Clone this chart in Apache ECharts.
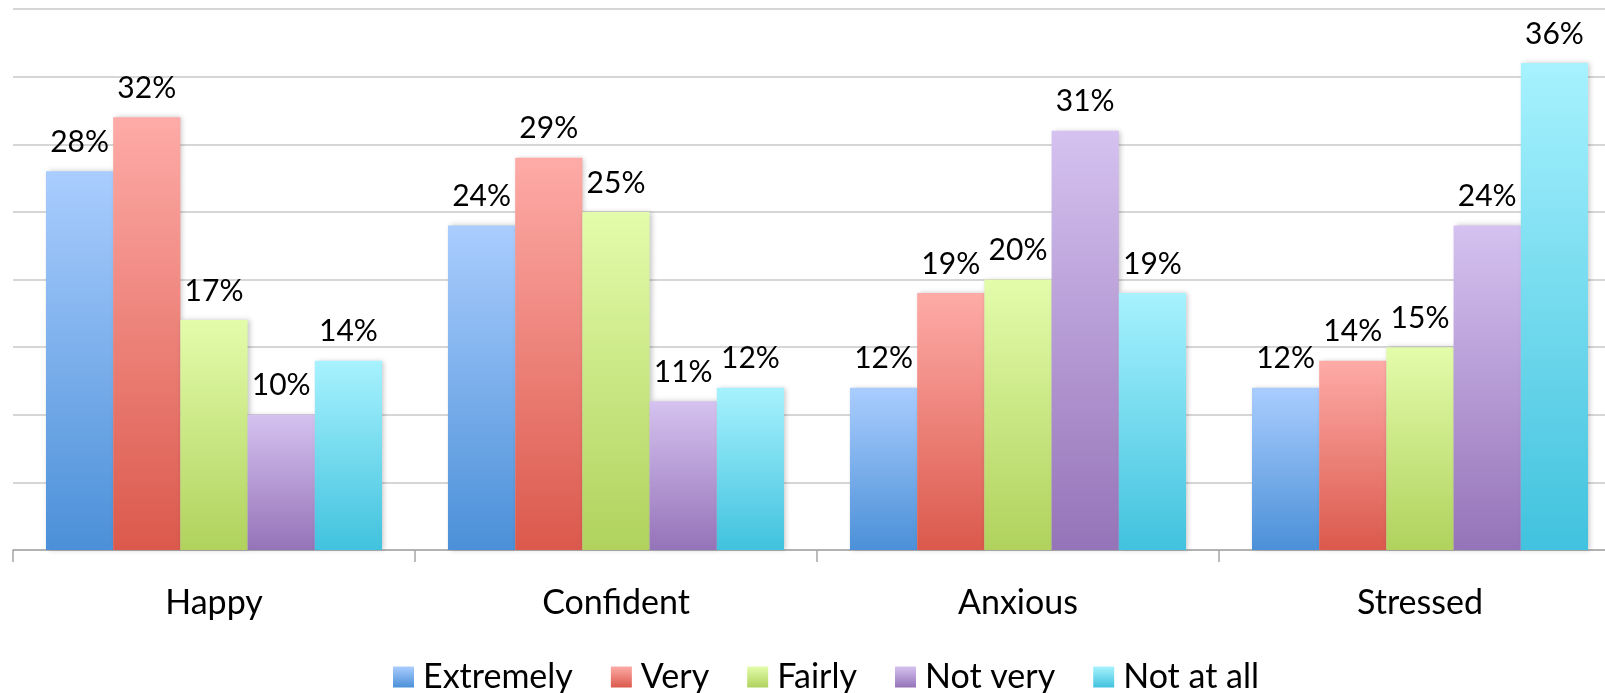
<!DOCTYPE html>
<html>
<head>
<meta charset="utf-8">
<script src="https://cdn.jsdelivr.net/npm/echarts@6/dist/echarts.min.js"></script>
<style>
html,body{margin:0;padding:0;background:#fff;overflow:hidden;width:1605px;height:693px;}
#chart{width:1621px;height:693px;}
</style>
</head>
<body>
<div id="chart"></div>
<script>
const categories = ['Happy', 'Confident', 'Anxious', 'Stressed'];
const seriesNames = ['Extremely', 'Very', 'Fairly', 'Not very', 'Not at all'];
const extremely = [28, 24, 12, 12];
const very = [32, 29, 19, 14];
const fairly = [17, 25, 20, 15];
const notVery = [10, 11, 31, 24];
const notAtAll = [14, 12, 19, 36];
const seriesValues = [extremely, very, fairly, notVery, notAtAll];
const gradients = [
  ['#aacdfe', '#4b90d8'],
  ['#feaba7', '#db594c'],
  ['#e3fcab', '#b0d25d'],
  ['#d5c2f0', '#9573b8'],
  ['#a7f2fe', '#41c2de']
];

const chart = echarts.init(document.getElementById('chart'));
const series = seriesNames.map((name, i) => ({
  name: name,
  type: 'bar',
  data: seriesValues[i],
  barGap: '0%',
  barCategoryGap: '16.4%',
  itemStyle: {
    color: new echarts.graphic.LinearGradient(0, 0, 0, 1, [
      {offset: 0, color: gradients[i][0]},
      {offset: 1, color: gradients[i][1]}
    ]),
    shadowBlur: 5,
    shadowColor: 'rgba(0,0,0,0.22)',
    shadowOffsetX: 2,
    shadowOffsetY: 0
  },
  label: {
    show: true,
    position: 'top',
    distance: 14,
    formatter: '{c}%',
    color: '#000',
    fontFamily: 'Lato',
    fontSize: 30
  }
}));

chart.setOption({
  animation: false,
  backgroundColor: '#fff',
  grid: {left: 13, top: 9, bottom: 143, right: 0, containLabel: false},
  legend: {
    data: seriesNames,
    left: 388,
    top: 655,
    itemWidth: 21,
    itemHeight: 21,
    itemGap: 38,
    icon: 'rect',
    textStyle: {fontFamily: 'Lato', fontSize: 34, color: '#000', padding: [0, 0, 0, 4]}
  },
  xAxis: {
    type: 'category',
    data: categories,
    axisLine: {lineStyle: {color: '#a6a6a6', width: 1.5}},
    axisTick: {show: true, length: 12, lineStyle: {color: '#a6a6a6', width: 1.5}},
    axisLabel: {fontFamily: 'Lato', fontSize: 34, color: '#000', margin: 36}
  },
  yAxis: {
    type: 'value',
    min: 0,
    max: 40,
    interval: 5,
    axisLabel: {show: false},
    axisLine: {show: false},
    axisTick: {show: false},
    splitLine: {lineStyle: {color: '#c8c8c8', width: 1.5}}
  },
  series: series
});
</script>
</body>
</html>
